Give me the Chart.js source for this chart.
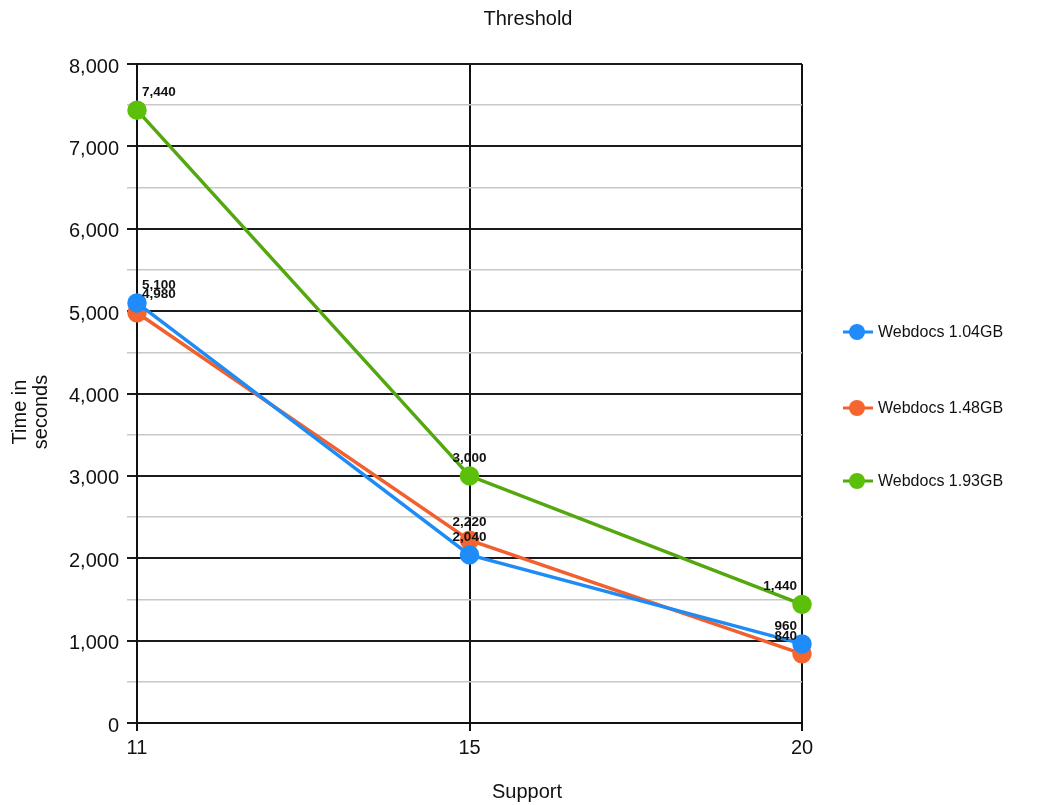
<!DOCTYPE html>
<html>
<head>
<meta charset="utf-8">
<style>
  html, body { margin: 0; padding: 0; background: #fff; }
  #wrap { width: 1040px; height: 805px; position: relative; }
</style>
<script src="https://cdn.jsdelivr.net/npm/chart.js@4.4.0/dist/chart.umd.min.js"></script>
</head>
<body>
<div id="wrap"><canvas id="c" width="1040" height="805"></canvas></div>
<script>
const chartTitle = 'Threshold';
const xTitle = 'Support';
const yTitle = ['Time in', 'seconds'];
const categories = ['11', '15', '20'];
const seriesNames = ['Webdocs 1.04GB', 'Webdocs 1.48GB', 'Webdocs 1.93GB'];
const webdocs104 = [5100, 2040, 960];
const webdocs148 = [4980, 2220, 840];
const webdocs193 = [7440, 3000, 1440];
const lineColors = ['#1f8cf5', '#f2602e', '#52a80e'];
const pointColors = ['#1f8cfa', '#f5652f', '#5cbf0a'];

const FONT = '"Liberation Sans", Arial, Helvetica, sans-serif';

const extras = {
  id: 'extras',
  afterDatasetsDraw(chart) {
    const ctx = chart.ctx;
    const area = chart.chartArea;
    ctx.save();
    ctx.font = 'bold 13.5px ' + FONT;
    ctx.fillStyle = '#111';
    ctx.textBaseline = 'middle';
    chart.data.datasets.forEach((ds, di) => {
      const meta = chart.getDatasetMeta(di);
      meta.data.forEach((pt, i) => {
        const txt = ds.data[i].toLocaleString('en-US');
        const w = ctx.measureText(txt).width;
        let x = pt.x - w / 2;
        if (x < area.left + 5) x = area.left + 5;
        if (x + w > area.right - 5) x = area.right - 5 - w;
        ctx.textAlign = 'left';
        ctx.fillText(txt, x, pt.y - 18);
      });
    });
    ctx.restore();
  },
  afterDraw(chart) {
    const ctx = chart.ctx;
    ctx.save();
    ctx.fillStyle = '#111';
    ctx.font = '20px ' + FONT;
    ctx.textAlign = 'center';
    ctx.textBaseline = 'middle';
    ctx.fillText(chartTitle, 528, 19);
    ctx.fillText(xTitle, 527, 792);
    ctx.save();
    ctx.translate(30, 412);
    ctx.rotate(-Math.PI / 2);
    ctx.fillText(yTitle[0], 0, -10);
    ctx.fillText(yTitle[1], 0, 11);
    ctx.restore();
    const ys = [332, 408, 481];
    ctx.font = '16px ' + FONT;
    ctx.textAlign = 'left';
    chart.data.datasets.forEach((ds, i) => {
      const y = ys[i];
      ctx.strokeStyle = ds.borderColor;
      ctx.lineWidth = 3;
      ctx.beginPath();
      ctx.moveTo(843, y);
      ctx.lineTo(873, y);
      ctx.stroke();
      ctx.fillStyle = ds.pointBackgroundColor;
      ctx.beginPath();
      ctx.arc(857, y, 8, 0, Math.PI * 2);
      ctx.fill();
      ctx.fillStyle = '#111';
      ctx.fillText(ds.label, 878, y + 1);
    });
    ctx.restore();
  }
};

function mk(i, data) {
  return {
    label: seriesNames[i],
    data: data,
    borderColor: lineColors[i],
    backgroundColor: pointColors[i],
    pointBackgroundColor: pointColors[i],
    pointBorderColor: pointColors[i],
    pointRadius: 8,
    pointHoverRadius: 8,
    borderWidth: 3.5,
    tension: 0,
    fill: false
  };
}

const isMajor = c => c.tick && c.tick.value % 1000 === 0;

new Chart(document.getElementById('c'), {
  type: 'line',
  data: {
    labels: categories,
    datasets: [mk(0, webdocs104), mk(1, webdocs148), mk(2, webdocs193)]
  },
  options: {
    responsive: false,
    animation: false,
    events: [],
    layout: { padding: { top: 64, left: 0, right: 238, bottom: 0 } },
    plugins: { legend: { display: false }, title: { display: false }, tooltip: { enabled: false } },
    scales: {
      x: {
        type: 'category',
        offset: false,
        afterFit(s) { s.height = 82; },
        grid: { color: '#111', lineWidth: 2, tickLength: 8, tickColor: '#111', drawOnChartArea: true },
        border: { color: '#111', width: 2 },
        ticks: { color: '#111', font: { family: FONT, size: 20 }, padding: 5 }
      },
      y: {
        min: 0, max: 8000,
        afterFit(s) { s.width = 137; },
        afterBuildTicks(s) {
          const t = [];
          for (let v = 0; v <= 8000; v += 500) t.push({ value: v });
          s.ticks = t;
        },
        grid: {
          color: c => isMajor(c) ? '#1a1a1a' : '#c8c8c8',
          tickColor: c => isMajor(c) ? '#1a1a1a' : '#c8c8c8',
          lineWidth: c => isMajor(c) ? 2 : 1.5,
          tickLength: 10
        },
        border: { color: '#111', width: 2 },
        ticks: {
          color: '#111',
          font: { family: FONT, size: 20 },
          padding: 8,
          labelOffset: 3,
          autoSkip: false,
          callback: v => (v % 1000 === 0) ? v.toLocaleString('en-US') : ''
        }
      }
    }
  },
  plugins: [extras]
});
</script>
</body>
</html>
